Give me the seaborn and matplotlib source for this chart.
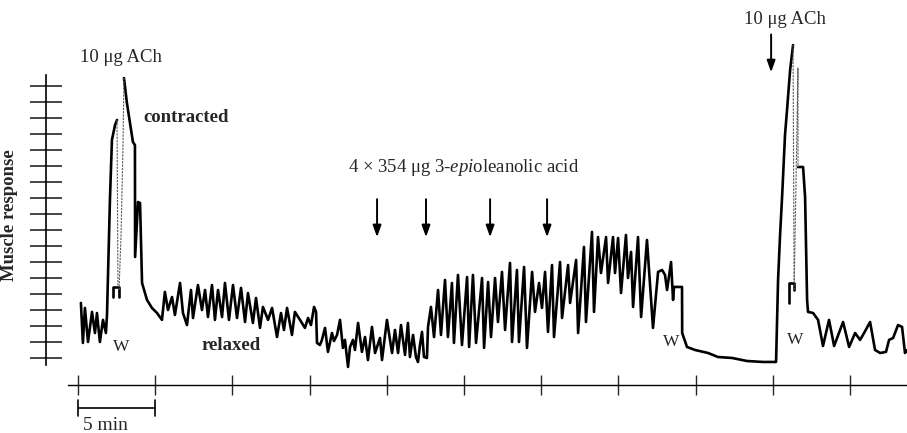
import pandas as pd
import matplotlib
matplotlib.use('Agg')
import matplotlib.pyplot as plt
import seaborn as sns

# trace readings: time (min), response (scale divisions)
trace_rise = [(0.19, 3.44), (0.32, 0.94), (0.45, 3.13), (0.65, 1.00), (0.91, 2.88), (1.10, 1.56),
              (1.23, 2.81), (1.42, 1.00), (1.62, 2.38), (1.81, 1.56), (1.88, 2.69), (2.07, 9.88),
              (2.20, 13.63), (2.40, 14.56), (2.53, 14.88)]
fast_1 = [(2.53, 14.88), (2.59, 4.44)]
step_1 = [(2.27, 3.81), (2.27, 4.44), (2.66, 4.44), (2.66, 3.81)]
fast_2 = [(2.66, 4.25), (2.79, 7.69), (2.91, 13.0), (2.98, 17.5)]
trace_main = [
    (2.98, 17.50), (3.17, 15.94), (3.56, 13.50), (3.69, 13.31), (3.70, 6.31), (3.89, 9.75), (4.02, 9.69),
    (4.15, 4.69), (4.47, 3.63), (4.79, 3.13), (5.12, 2.81), (5.44, 2.38),
    (5.63, 4.13), (5.83, 3.00), (6.09, 3.81), (6.28, 2.69), (6.61, 4.69), (6.80, 2.81), (7.06, 2.06),
    (7.32, 4.25), (7.45, 2.50), (7.77, 4.56), (8.03, 3.00), (8.23, 4.25), (8.42, 2.56), (8.68, 4.56),
    (8.87, 2.38), (9.07, 4.25), (9.33, 2.56), (9.52, 4.69), (9.78, 2.38), (10.04, 4.56), (10.30, 2.50),
    (10.56, 4.38), (10.82, 2.25), (11.01, 4.06), (11.33, 2.19), (11.53, 3.75), (11.79, 1.88),
    (11.98, 3.19), (12.31, 2.38), (12.57, 3.13), (12.89, 1.31), (13.15, 2.81), (13.34, 1.75),
    (13.54, 3.13), (13.86, 1.44), (14.05, 2.88), (14.38, 2.38), (14.70, 1.88), (14.90, 2.50),
    (15.09, 2.06), (15.29, 3.19), (15.42, 2.88), (15.48, 0.94), (15.67, 0.81), (15.80, 1.13),
    (16.00, 1.88), (16.19, 0.38), (16.45, 1.56), (16.58, 1.06), (16.78, 1.44), (16.97, 2.38),
    (17.16, 0.63), (17.29, 1.13), (17.49, -0.56), (17.62, 0.69), (17.81, 1.13), (17.94, 0.50),
    (18.14, 2.19), (18.39, 0.38), (18.59, 1.31), (18.78, -0.13), (19.04, 1.94), (19.24, 0.31),
    (19.56, 1.25), (19.69, -0.13), (20.01, 2.38), (20.34, 0.31), (20.53, 1.75), (20.73, 0.31),
    (20.92, 2.06), (21.18, 0.19), (21.37, 2.19), (21.50, 0.06), (21.70, 1.44), (21.89, 0.06),
    (22.02, -0.25), (22.15, 0.81), (22.28, 1.63), (22.41, 0.06), (22.60, 0.00), (22.67, 1.94),
    (22.86, 3.19), (23.06, 1.31), (23.32, 4.25), (23.51, 1.44), (23.77, 4.88), (23.96, 1.31),
    (24.22, 4.69), (24.35, 0.94), (24.61, 5.19), (24.87, 0.81), (25.20, 5.06), (25.33, 0.69),
    (25.58, 5.19), (25.78, 0.94), (26.17, 5.00), (26.30, 0.63), (26.56, 4.75), (26.75, 1.31),
    (27.01, 5.00), (27.20, 2.25), (27.46, 5.38), (27.66, 1.75), (27.98, 5.94), (28.11, 1.00),
    (28.43, 5.50), (28.56, 1.00), (28.89, 5.69), (29.08, 0.63), (29.41, 5.38), (29.60, 2.88),
    (29.86, 4.69), (30.05, 3.13), (30.25, 5.38), (30.44, 1.63), (30.70, 5.81), (30.83, 1.31),
    (31.22, 6.00), (31.35, 2.50), (31.74, 5.81), (31.87, 3.44), (32.26, 6.13), (32.39, 1.56),
    (32.77, 6.94), (32.90, 2.25), (33.29, 7.88), (33.42, 2.88), (33.68, 7.56), (33.87, 5.31),
    (34.20, 7.56), (34.33, 4.69), (34.65, 7.56), (34.78, 5.31), (34.98, 7.50), (35.17, 4.06),
    (35.49, 7.69), (35.62, 5.00), (35.82, 6.63), (35.95, 3.19), (36.27, 7.56), (36.47, 2.56),
    (36.85, 7.38), (37.24, 1.88), (37.57, 5.38), (37.83, 5.50), (38.02, 5.19), (38.15, 4.25),
    (38.41, 6.00), (38.54, 3.63), (38.60, 4.44), (39.12, 4.44), (39.13, 1.56), (39.44, 0.69),
    (39.96, 0.50), (40.81, 0.31), (41.45, 0.06), (42.36, 0.00), (43.33, -0.19), (44.37, -0.25),
    (45.14, -0.25), (45.21, -0.25), (45.34, 4.88), (45.47, 7.69), (45.60, 10.06), (45.79, 13.94),
    (45.92, 15.50), (46.12, 18.00), (46.31, 19.56)]
fast_3 = [(46.31, 19.56), (46.38, 4.69)]
step_2 = [(46.05, 3.44), (46.05, 4.69), (46.38, 4.69), (46.38, 4.25)]
fast_4 = [(46.38, 4.25), (46.63, 18.13), (46.63, 11.94)]
trace_end = [(46.63, 11.94), (46.96, 11.94), (47.09, 10.06), (47.22, 3.63), (47.28, 2.88), (47.61, 2.81),
             (47.93, 2.38), (48.25, 0.75), (48.64, 2.38), (48.97, 0.75), (49.55, 2.25), (49.94, 0.69),
             (50.33, 1.56), (50.65, 1.13), (50.91, 1.56), (51.30, 2.25), (51.62, 0.50), (51.95, 0.31),
             (52.33, 0.38), (52.53, 1.13), (52.79, 1.25), (53.11, 2.06), (53.37, 1.94), (53.56, 0.31),
             (53.69, 0.50)]

dose_times = [19.37, 22.54, 26.69, 30.38]   # 4 x 354 ug additions
ach_time = 44.89
time_ticks = list(range(0, 51, 5))
scale_ticks = list(range(0, 18))
scale_bar_min = 5


def to_frame(segments):
    rows = []
    for i, seg in enumerate(segments):
        for t, r in seg:
            rows.append({'seg': i, 't': t, 'r': r})
    return pd.DataFrame(rows)


thick = to_frame([trace_rise, step_1, trace_main, step_2, trace_end])
thin = to_frame([fast_1, fast_2, fast_3, fast_4])

sns.set_style('white')
plt.rcParams['font.family'] = ['Liberation Serif', 'DejaVu Serif']
plt.rcParams['mathtext.fontset'] = 'custom'
plt.rcParams['mathtext.rm'] = 'Liberation Serif'
plt.rcParams['mathtext.it'] = 'Liberation Serif:italic'

fig = plt.figure(figsize=(9.07, 4.33), dpi=100)
ax = fig.add_axes([46 / 907, 48 / 433, 861 / 907, 385 / 433])

sns.lineplot(data=thick, x='t', y='r', units='seg', estimator=None, sort=False,
             color='black', lw=1.9, ax=ax)
sns.lineplot(data=thin, x='t', y='r', units='seg', estimator=None, sort=False,
             color='0.35', lw=0.8, ls=(0, (2, 1)), ax=ax)

ax.set_xlim(-2.07, 53.69)
ax.set_ylim(-1.69, 22.38)
ax.set_xticks(time_ticks)
ax.set_yticks(scale_ticks)
ax.tick_params(axis='x', direction='inout', length=14, width=1.0, labelbottom=False, bottom=True)
ax.tick_params(axis='y', direction='inout', length=23, width=1.2, labelleft=False, left=True)
for s in ['top', 'right']:
    ax.spines[s].set_visible(False)
ax.spines['left'].set_bounds(-0.44, 17.69)
ax.spines['bottom'].set_bounds(-0.65, 53.69)
ax.spines['left'].set_linewidth(1.2)
ax.spines['bottom'].set_linewidth(1.0)
ax.spines['left'].set_color('black')
ax.spines['bottom'].set_color('black')
ax.set_xlabel('')
ax.set_ylabel('Muscle response', fontsize=13.5, fontweight='bold')
ax.yaxis.set_label_coords(-0.033, 0.44)

# 5 min scale bar
ax.plot([0, scale_bar_min], [-3.12, -3.12], color='black', lw=1.2, clip_on=False)
ax.plot([0, 0], [-3.6, -2.65], color='black', lw=1.2, clip_on=False)
ax.plot([scale_bar_min, scale_bar_min], [-3.6, -2.65], color='black', lw=1.2, clip_on=False)
ax.text(1.8, -4.25, '5 min', fontsize=14, ha='center', va='center', clip_on=False)

arrow = dict(arrowstyle='-|>,head_width=0.25,head_length=0.7', color='black', lw=1.4)
for d in dose_times:
    ax.annotate('', xy=(d, 7.38), xytext=(d, 10.1), arrowprops=arrow)
ax.annotate('', xy=(ach_time, 17.69), xytext=(ach_time, 20.4), arrowprops=arrow)

ax.text(0.13, 18.81, '10 μg ACh', fontsize=13.5, ha='left', va='center')
ax.text(45.79, 21.19, '10 μg ACh', fontsize=13.5, ha='center', va='center')
ax.text(4.21, 15.06, 'contracted', fontsize=13.5, fontweight='bold', ha='left', va='center')
ax.text(9.91, 0.81, 'relaxed', fontsize=13.5, fontweight='bold', ha='center', va='center')
ax.text(24.94, 11.88, '4 × 354 μg 3-$\\mathit{epi}$oleanolic acid', fontsize=13.5,
        ha='center', va='center')
for tw, rw in [(2.79, 0.69), (38.41, 1.0), (46.44, 1.13)]:
    ax.text(tw, rw, 'W', fontsize=12.5, ha='center', va='center')

fig.savefig('out.png', dpi=100)
